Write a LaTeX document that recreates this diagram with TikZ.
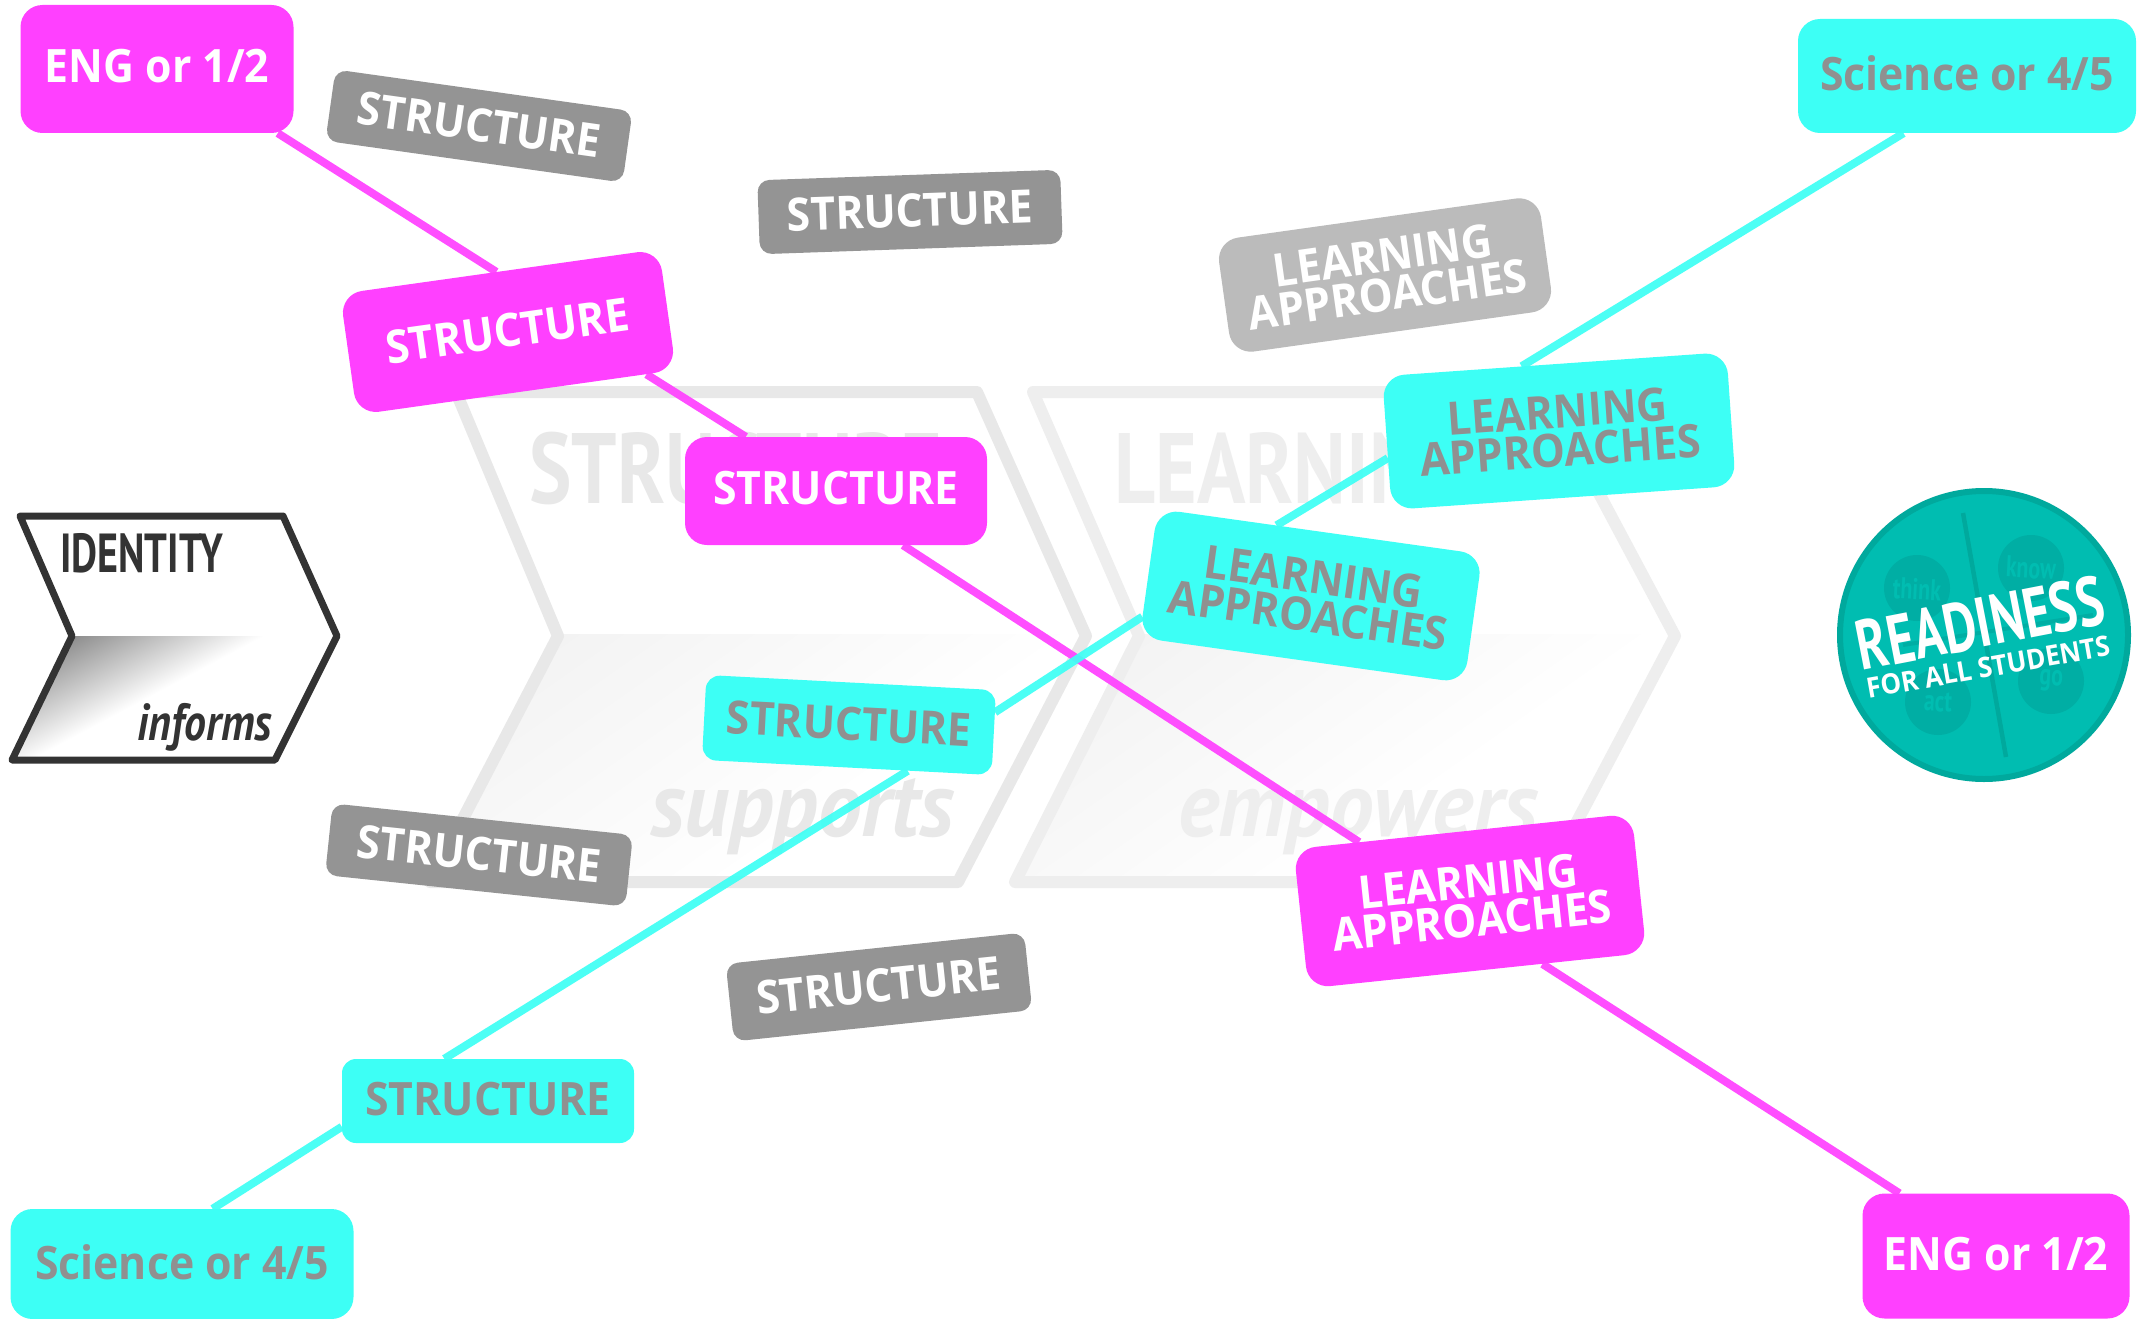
\documentclass[tikz,border=0pt]{standalone}
\usepackage{fontspec}
\setmainfont{Open Sans}
\newfontfamily\boxf[FakeStretch=0.93]{Open Sans}
\newfontfamily\condf[FakeStretch=0.73]{PT Sans}
\newfontfamily\condg[FakeStretch=0.80]{PT Sans}
\newfontfamily\condi[FakeStretch=0.84]{PT Sans}
\newfontfamily\condj[FakeStretch=0.95]{PT Sans}
\newcommand{\upl}[2][3pt]{\raisebox{#1}{#2}}
\pgfdeclarelayer{ghost}
\pgfdeclarelayer{wire}
\pgfsetlayers{ghost,wire,main}
\definecolor{mag}{HTML}{FF40FF}
\definecolor{cyn}{HTML}{3DFFF5}
\definecolor{grayb}{HTML}{949494}
\definecolor{lgrayb}{HTML}{BBBBBB}
\definecolor{txtg}{HTML}{909090}
\definecolor{ghostA}{HTML}{E8E8E8}
\definecolor{ghostB}{HTML}{EEEEEE}
\definecolor{ghostF}{HTML}{F3F3F3}
\definecolor{darkl}{HTML}{333333}
\definecolor{teal1}{HTML}{00BDB1}
\definecolor{teal2}{HTML}{00AEA4}
\definecolor{teal3}{HTML}{00A99D}
\tikzset{
  lbl/.style={rectangle,rounded corners=22pt,inner sep=0pt,align=center,
    font=\boxf\bfseries\fontsize{46}{39}\selectfont},
  magbox/.style={lbl,fill=mag,text=white},
  cynbox/.style={lbl,fill=cyn,text=txtg},
  graybox/.style={lbl,fill=grayb,text=white,rounded corners=12pt},
  lgraybox/.style={lbl,fill=lgrayb,text=white},
  magline/.style={mag,line width=8pt,opacity=.92},
  cynline/.style={cyn,line width=8pt,opacity=.92},
  ghosttext/.style={inner sep=0pt,font=\condg\bfseries\fontsize{100}{100}\selectfont},
  badgetext/.style={inner sep=0pt,text=teal1,font=\condf\bfseries\fontsize{30}{30}\selectfont},
}
\begin{document}
\begin{tikzpicture}[x=1pt,y=-1pt]
\useasboundingbox (0,0) rectangle (2144,1319);

% ghost chevrons
\begin{pgfonlayer}{ghost}
\fill[white] (0,0) rectangle (2144,1319);
\begin{scope}
  \clip (558,634) -- (1084,634) -- (958,880) -- (430,880) -- cycle;
  \shade[transform canvas={rotate around={-55:(558,634)}},left color=ghostF,right color=white]
    (558,134) rectangle (858,1134);
\end{scope}
\begin{scope}
  \clip (1139,634) -- (1675,634) -- (1545,880) -- (1015,880) -- cycle;
  \shade[transform canvas={rotate around={-55:(1139,634)}},left color=ghostF,right color=white]
    (1139,134) rectangle (1439,1134);
\end{scope}
\draw[ghostA,line width=12pt,line join=round] (456,392) -- (977,392) -- (1086,636) -- (958,882) -- (430,882) -- (558,636) -- cycle;
\draw[ghostB,line width=12pt,line join=round] (1033,392) -- (1545,392) -- (1675,636) -- (1545,882) -- (1015,882) -- (1139,636) -- cycle;
\node[ghosttext,text=ghostA,anchor=base west] (gs) at (529,503) {STRUCTURE};
\node[ghosttext,text=ghostB,anchor=base west] (gl) at (1114,503) {LEARNING};
\node[ghosttext,text=ghostA,anchor=base west,font=\condj\bfseries\itshape\fontsize{92}{92}\selectfont] (gsup) at (650,836) {supports};
\node[ghosttext,text=ghostB,anchor=base west,font=\condj\bfseries\itshape\fontsize{92}{92}\selectfont] (gemp) at (1178,836) {empowers};
\end{pgfonlayer}

% identity chevron
\fill[white] (20,516) -- (283,516) -- (337,636) -- (275,760) -- (12,760) -- (72,636) -- cycle;
\begin{scope}
  \clip (72,636) -- (337,636) -- (275,760) -- (12,760) -- cycle;
  \shade[transform canvas={rotate around={-62:(72,636)}},left color=black!45,middle color=black!6,right color=white]
    (72,336) rectangle (162,936);
\end{scope}
\draw[darkl,line width=7pt,line join=round] (20,516) -- (283,516) -- (337,636) -- (275,760) -- (12,760) -- (72,636) -- cycle;
\node[inner sep=0pt,anchor=base west,text=darkl,font=\condf\bfseries\fontsize{55}{55}\selectfont] (idt) at (60,572) {IDENTITY};
\node[inner sep=0pt,anchor=base west,text=darkl,font=\condi\bfseries\itshape\fontsize{52}{52}\selectfont] (inf) at (137,740) {informs};

% label boxes
\node[magbox,minimum width=273pt,minimum height=128pt] (eng1) at (157,69) {\upl[7pt]{ENG or 1/2}};
\node[graybox,minimum width=300pt,minimum height=72pt,rotate=-8] (g1) at (479,126) {\upl{STRUCTURE}};
\node[graybox,minimum width=303pt,minimum height=74pt,rotate=2] (g2) at (910,212) {\upl{STRUCTURE}};
\node[lgraybox,minimum width=325pt,minimum height=115pt,rotate=8] (gla) at (1385,275) {LEARNING\\APPROACHES};
\node[magbox,minimum width=322pt,minimum height=122pt,rotate=8] (s1) at (508,332) {\upl{STRUCTURE}};
\node[magbox,minimum width=302pt,minimum height=108pt] (s2) at (836,491) {\upl[6pt]{STRUCTURE}};
\node[cynbox,minimum width=345pt,minimum height=134pt,rotate=4] (la1) at (1559,431) {LEARNING\\APPROACHES};
\node[cynbox,minimum width=328pt,minimum height=130pt,rotate=-8] (la2) at (1311,596) {LEARNING\\APPROACHES};
\node[cynbox,minimum width=290pt,minimum height=85pt,rotate=-3,rounded corners=14pt] (st) at (849,725) {\upl{STRUCTURE}};
\node[graybox,minimum width=302pt,minimum height=72pt,rotate=-6] (g3) at (479,855) {\upl{STRUCTURE}};
\node[graybox,minimum width=300pt,minimum height=78pt,rotate=6] (g4) at (879,987) {\upl{STRUCTURE}};
\node[cynbox,minimum width=292pt,minimum height=84pt,rounded corners=14pt] (sb) at (488,1101) {\upl[4pt]{STRUCTURE}};
\node[cynbox,minimum width=343pt,minimum height=110pt] (scibl) at (182,1264) {\upl{Science or 4/5}};
\node[cynbox,minimum width=338pt,minimum height=114pt] (scitr) at (1967,76) {\upl[6pt]{Science or 4/5}};
\node[magbox,minimum width=340pt,minimum height=140pt,rotate=6] (la3) at (1470,901) {LEARNING\\APPROACHES};
\node[magbox,minimum width=267pt,minimum height=125pt] (eng2) at (1996,1256) {\upl[4pt]{ENG or 1/2}};

% connectors
\begin{pgfonlayer}{wire}
\draw[magline] (eng1.-28.9) -- (s1.93.5);
\draw[magline] (s1.-25.3) -- (s2.149.4);
\draw[magline] (s2.-39.3) -- (la3.146.8);
\draw[magline] (la3.-47.4) -- (eng2.147.1);
\draw[cynline] (scibl.61.8) -- (sb.190.5);
\draw[cynline] (sb.136.3) -- (st.-35.8);
\draw[cynline] (st.8.5) -- (la2.195);
\draw[cynline] (la2.124.2) -- (la1.185.4);
\draw[cynline] (la1.116.8) -- (scitr.222);
\end{pgfonlayer}

% readiness badge
\fill[teal1,draw=teal3,line width=6pt] (1984,635) circle (144);
\fill[teal2] (1917,588) circle (33);
\fill[teal2] (2031,568) circle (33);
\fill[teal2] (1938,702) circle (33);
\fill[teal2] (2051,681) circle (33);
\draw[teal3,line width=4.5pt] (1963,513) -- (2006,757);
\draw[teal2,line width=4pt] (1903,645) -- (2093,615);
\node[badgetext,rotate=-3] (bt) at (1917,589) {think};
\node[badgetext,rotate=-3] (bk) at (2031,568) {know};
\node[badgetext,rotate=-3] (ba) at (1938,702) {act};
\node[badgetext,rotate=-3] (bg) at (2051,681) {go};
\node[inner sep=0pt,text=white,rotate=11,font=\condf\bfseries\fontsize{70}{70}\selectfont] (rd) at (1980,623) {READINESS};
\node[inner sep=0pt,text=white,rotate=10,font=\boxf\bfseries\fontsize{28}{28}\selectfont] (fa) at (1988,667) {FOR ALL STUDENTS};
\end{tikzpicture}
\end{document}
